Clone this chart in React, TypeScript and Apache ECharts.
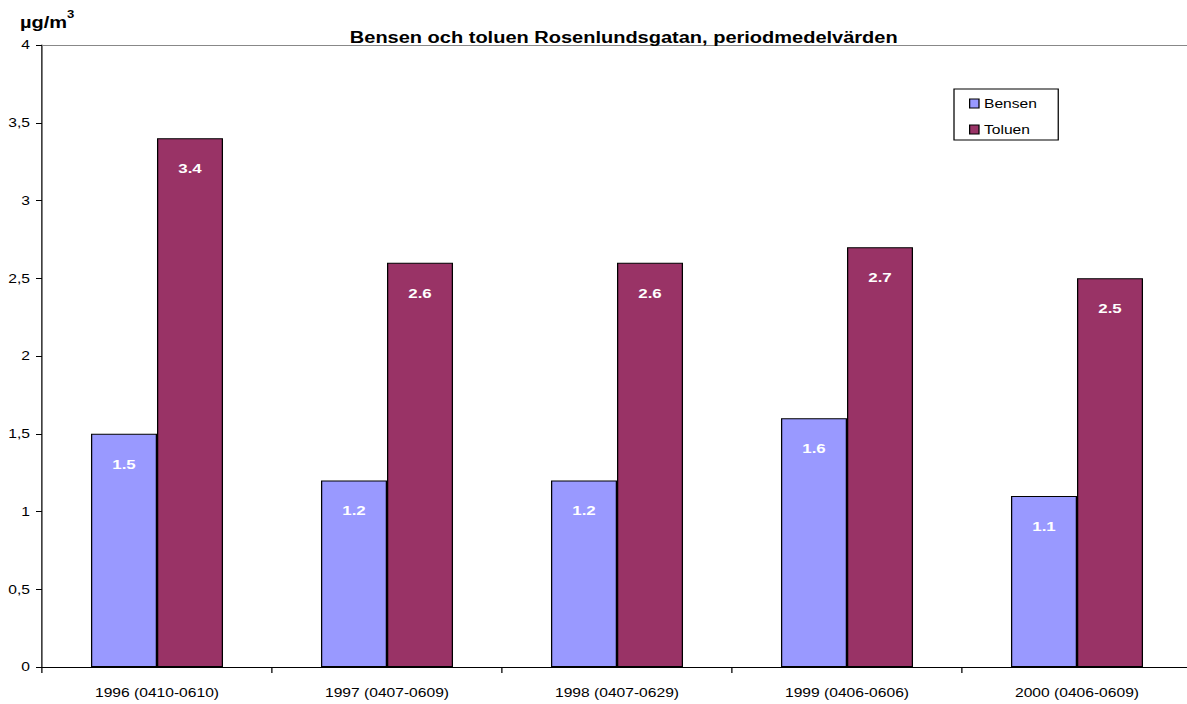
import React, { useEffect, useRef } from "react";
import * as echarts from "echarts";

const categories = [
  "1996 (0410-0610)",
  "1997 (0407-0609)",
  "1998 (0407-0629)",
  "1999 (0406-0606)",
  "2000 (0406-0609)",
];
const bensen = [1.5, 1.2, 1.2, 1.6, 1.1];
const toluen = [3.4, 2.6, 2.6, 2.7, 2.5];
const seriesNames = ["Bensen", "Toluen"];
const title = "Bensen och toluen Rosenlundsgatan, periodmedelvärden";

// The reference is a horizontally stretched chart; render narrower and stretch.
const SX = 1.25;
const W = 1187;
const H = 704;
const x = (px: number) => px / SX;

export default function App() {
  const ref = useRef<HTMLDivElement>(null);
  useEffect(() => {
    if (!ref.current) return;
    const chart = echarts.init(ref.current, undefined, { renderer: "svg" });
    const font = "Arial, 'Liberation Sans', sans-serif";
    const label = {
      show: true,
      position: "insideTop",
      distance: 23,
      color: "#fff",
      fontWeight: "bold",
      fontSize: 13.5,
      fontFamily: font,
      formatter: (p: any) => p.value.toFixed(1),
    };
    chart.setOption({
      animation: false,
      backgroundColor: "#fff",
      textStyle: { fontFamily: font },
      title: {
        text: title,
        left: x(617.5),
        textAlign: "center",
        top: 25,
        textStyle: { fontSize: 16, fontWeight: "bold", color: "#000", fontFamily: font },
      },
      graphic: [
        {
          type: "text",
          left: x(20),
          top: 9,
          style: {
            text: "{a|µg/m}{s|3}",
            rich: {
              a: { fontSize: 16, fontWeight: "bold", fontFamily: font, fill: "#000", verticalAlign: "bottom", padding: [6, 0, 0, 0] },
              s: { fontSize: 10.5, fontWeight: "bold", fontFamily: font, fill: "#000", verticalAlign: "top" },
            },
          },
        },
      ],
      legend: {
        orient: "vertical",
        left: x(954),
        top: 89,
        data: seriesNames,
        itemWidth: 7.5,
        itemHeight: 9,
        itemGap: 13,
        padding: [8, 17, 4, 12],
        borderColor: "#000",
        borderWidth: 1,
        icon: "rect",
        itemStyle: { borderColor: "#000", borderWidth: 1 },
        textStyle: { fontSize: 12.5, color: "#000", fontFamily: font, padding: [0, 0, 0, -1] },
      },
      grid: { left: x(42), width: x(1150), top: 45, bottom: 37 },
      xAxis: [
        {
          type: "category",
          data: categories,
          axisLine: { lineStyle: { color: "#000", width: 1 } },
          axisTick: { show: true, alignWithLabel: false, length: 6, lineStyle: { color: "#000" } },
          axisLabel: { color: "#000", fontSize: 12.5, fontFamily: font, margin: 19 },
        },
        {
          type: "category",
          position: "top",
          data: categories,
          axisLine: { show: true, lineStyle: { color: "#888", width: 1 } },
          axisTick: { show: false },
          axisLabel: { show: false },
        },
      ],
      yAxis: {
        type: "value",
        min: 0,
        max: 4,
        interval: 0.5,
        axisLine: { show: true, lineStyle: { color: "#000" } },
        axisTick: { show: true, length: x(6), lineStyle: { color: "#000" } },
        splitLine: { show: false },
        axisLabel: {
          color: "#000",
          fontSize: 12.5,
          fontFamily: font,
          margin: x(12),
          formatter: (v: number) => String(v).replace(".", ","),
        },
      },
      series: [
        {
          name: seriesNames[0],
          type: "bar",
          data: bensen,
          barGap: "0%",
          barCategoryGap: "42.6%",
          itemStyle: { color: "#9999FF", borderColor: "#000", borderWidth: 1 },
          label,
        },
        {
          name: seriesNames[1],
          type: "bar",
          data: toluen,
          itemStyle: { color: "#993366", borderColor: "#000", borderWidth: 1 },
          label,
        },
      ],
    });
    return () => chart.dispose();
  }, []);
  return (
    <div
      style={{ position: "fixed", left: 0, top: 0, width: W, height: H, overflow: "hidden", background: "#fff" }}
    >
      <div
        ref={ref}
        style={{
          width: x(W) + 12,
          height: H,
          transform: `scaleX(${SX})`,
          transformOrigin: "0 0",
        }}
      />
    </div>
  );
}
